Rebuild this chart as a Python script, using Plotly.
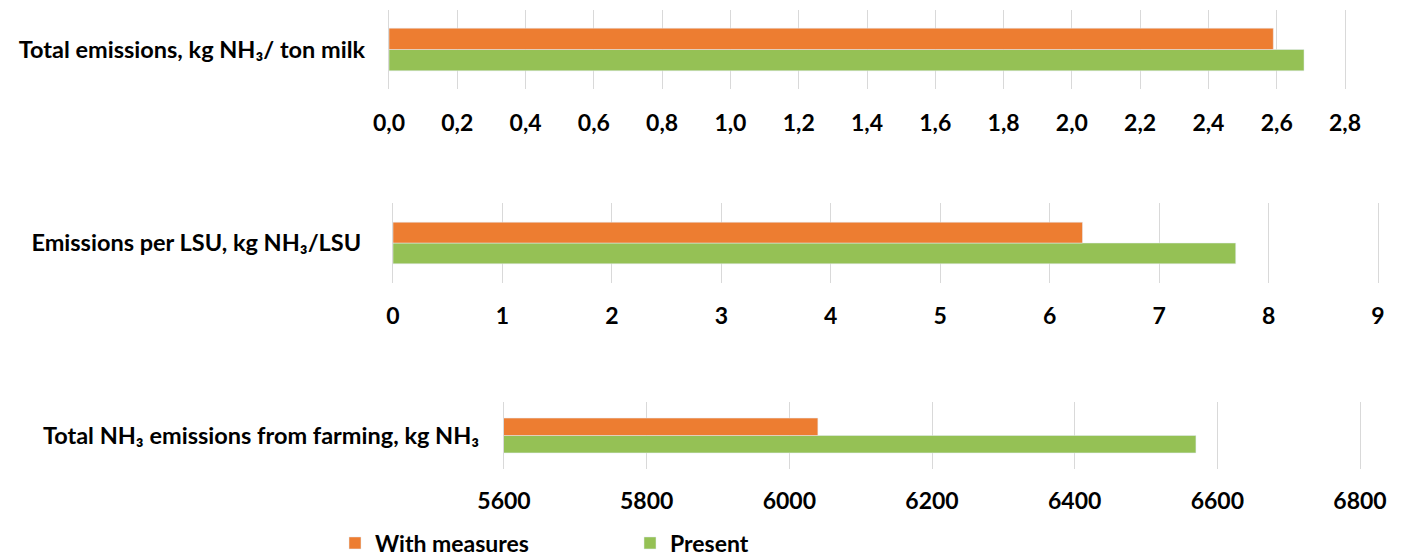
import plotly.graph_objects as go

# Categories (one per panel, top to bottom)
categories = [
    "Total emissions, kg NH₃/ ton milk",
    "Emissions per LSU, kg NH₃/LSU",
    "Total NH₃ emissions from farming, kg NH₃",
]
series_names = ["With measures", "Present"]
with_measures = [2.59, 6.3, 6040]
present = [2.68, 7.7, 6570]

# Axis settings per panel
x_ranges = [[0, 2.8], [0, 9], [5600, 6800]]
x_dticks = [0.2, 1, 200]
x_formats = [".1f", "d", "d"]

ORANGE = "#ED7D31"
GREEN = "#95C155"
GRID = "#D9D9D9"
FONT = "Lato"

W, H = 1403, 558
# pixel geometry of each panel: (left, right, top, bottom)
panels = [(389, 1345, 10, 89), (393, 1378, 203, 283), (504, 1360, 402, 469)]
bar_w = [0.27, 0.26, 0.26]
ylab_standoff = [18, 26, 19]
xlab_standoff = [18, 17, 16]

fig = go.Figure()
for i, cat in enumerate(categories):
    sfx = "" if i == 0 else str(i + 1)
    # Present sits below the category centre, With measures above
    fig.add_trace(go.Bar(
        y=[cat], x=[present[i]], orientation="h", name=series_names[1],
        marker_color=GREEN, width=bar_w[i], offset=-bar_w[i],
        xaxis="x" + sfx, yaxis="y" + sfx, showlegend=(i == 0), legendrank=2,
    ))
    fig.add_trace(go.Bar(
        y=[cat], x=[with_measures[i]], orientation="h", name=series_names[0],
        marker_color=ORANGE, width=bar_w[i], offset=0,
        xaxis="x" + sfx, yaxis="y" + sfx, showlegend=(i == 0), legendrank=1,
    ))

layout = dict(
    width=W, height=H, margin=dict(l=0, r=0, t=0, b=0, autoexpand=False),
    plot_bgcolor="white", paper_bgcolor="white",
    barmode="overlay", separators=", ",
    font=dict(family=FONT, size=23, color="black", weight="bold"),
    legend=dict(orientation="h", x=335 / W, y=1 - 543 / H, yanchor="middle",
                xanchor="left", entrywidth=250, font=dict(size=23, weight="bold"),
                bgcolor="rgba(0,0,0,0)"),
)
for i in range(3):
    sfx = "" if i == 0 else str(i + 1)
    left, right, top, bottom = panels[i]
    layout["xaxis" + sfx] = dict(
        domain=[left / W, right / W], range=x_ranges[i], dtick=x_dticks[i],
        tick0=x_ranges[i][0], tickformat=x_formats[i],
        anchor="y" + sfx, showgrid=True, gridcolor=GRID, gridwidth=1.3,
        zeroline=False, showline=False, ticks="", ticklabelstandoff=xlab_standoff[i],
        tickfont=dict(family=FONT, size=23, color="black", weight="bold"),
        fixedrange=True, automargin=False,
    )
    layout["yaxis" + sfx] = dict(
        domain=[1 - bottom / H, 1 - top / H], anchor="x" + sfx,
        type="category", range=[-0.5, 0.5], showgrid=False, zeroline=False,
        showline=True, mirror=True, linecolor=GRID, linewidth=1.3,
        ticks="", ticklabelstandoff=ylab_standoff[i],
        tickfont=dict(family=FONT, size=23.5, color="black", weight="bold"),
        fixedrange=True, automargin=False,
    )
fig.update_layout(**layout)
fig.write_html("out.html")
